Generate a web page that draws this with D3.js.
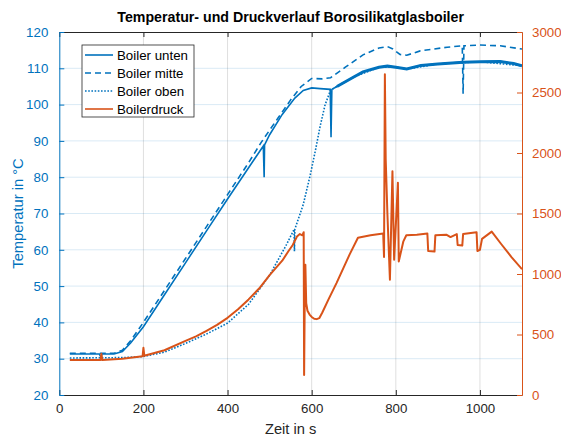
<!DOCTYPE html>
<html>
<head>
<meta charset="utf-8">
<script src="https://cdn.jsdelivr.net/npm/d3@7"></script>
<style>
  body { margin: 0; background: #fff; }
  svg { font-family: "Liberation Sans", Arial, Helvetica, sans-serif; }
</style>
</head>
<body>
<div id="chart-area"></div>
<script>
// Boiler unten (solid)
const tUnten = [25, 95, 100, 101, 130, 150, 170, 200, 250, 300, 350, 400, 450, 485, 487, 488, 500, 530, 560, 580, 600, 620, 644, 646, 648, 660, 700, 722, 760, 780, 800, 826, 860, 900, 960, 1000, 1048, 1080, 1100]
const vUnten = [31.3, 31.3, 30.2, 31.3, 31.3, 32, 34.4, 38.8, 47.6, 56.4, 65.2, 74, 82.6, 88.6, 80, 88.9, 91.7, 97.3, 101.8, 103.9, 104.6, 104.4, 104.2, 91, 104.2, 105, 107.6, 109, 110.3, 110.6, 110.3, 109.8, 110.8, 111.2, 111.7, 111.8, 111.9, 111.3, 110.7]

// Boiler mitte (dashed)
const tMitte = [25, 130, 150, 170, 200, 250, 300, 350, 400, 450, 480, 520, 550, 575, 600, 625, 645, 680, 722, 760, 780, 793, 810, 826, 858, 922, 958, 960, 962, 1000, 1048, 1100]
const vMitte = [31.5, 31.5, 32.3, 35, 40, 48.8, 57.6, 66.4, 75.2, 84, 89.6, 96.3, 101.3, 105, 107.2, 107.1, 107.4, 110.3, 113.7, 115.6, 116, 115.3, 113.8, 113.6, 114.8, 115.8, 116.2, 103, 116.2, 116.4, 116.2, 115.3]

// Boiler oben (dotted)
const tOben = [25, 150, 200, 250, 300, 350, 400, 450, 500, 540, 558, 559, 560, 561, 580, 596, 610, 620, 632, 645, 660, 700, 760, 800, 826, 900, 1000, 1100]
const vOben = [30.2, 30.3, 30.6, 31.8, 34.2, 36.8, 39.8, 45, 53, 61.4, 65.6, 59.6, 65.7, 66, 72.5, 80.3, 88, 94, 100, 104, 105, 107.6, 110.3, 110.3, 109.8, 111.2, 111.8, 110.7]

// Boilerdruck (right axis)
const tDruck = [25, 98, 100, 102, 150, 198, 200, 202, 250, 300, 325, 350, 375, 400, 425, 450, 475, 500, 515, 530, 545, 555, 565, 572, 578, 581, 582, 584, 585, 587, 590, 595, 600, 606, 612, 618, 625, 640, 659, 690, 710, 740, 770, 772, 774, 776, 780, 786, 792, 796, 805, 807, 818, 825, 850, 875, 877, 892, 894, 920, 930, 945, 947, 958, 960, 992, 994, 1000, 1005, 1028, 1050, 1075, 1100]
const vDruck = [290, 290, 340, 290, 300, 320, 390, 325, 370, 447, 485, 530, 580, 638, 708, 790, 880, 990, 1050, 1110, 1190, 1240, 1310, 1330, 1320, 1345, 166, 1000, 1076, 760, 696, 665, 645, 630, 627, 635, 680, 790, 925, 1160, 1300, 1320, 1335, 1140, 2650, 1946, 1500, 952, 1849, 1118, 1755, 1104, 1270, 1320, 1325, 1335, 1190, 1185, 1320, 1325, 1305, 1330, 1240, 1235, 1330, 1345, 1190, 1200, 1290, 1350, 1250, 1140, 1040]

const xTicks = [0, 200, 400, 600, 800, 1000]
const yTicksLeft = [20, 30, 40, 50, 60, 70, 80, 90, 100, 110, 120]
const yTicksRight = [0, 500, 1000, 1500, 2000, 2500, 3000]
const legendLabels = ["Boiler unten", "Boiler mitte", "Boiler oben", "Boilerdruck"]

function drawChart() {
    const svgWidth = 561
    const svgHeight = 437
    const margin = { left: 59.3, right: 39, top: 32, bottom: 42 }
    const chartWidth = svgWidth - margin.left - margin.right
    const chartHeight = svgHeight - margin.top - margin.bottom

    const blue = "#0072BD"
    const orange = "#D95319"
    const dark = "#262626"

    const xScale = d3.scaleLinear()
        .domain([0, 1100])
        .range([0, chartWidth])
    const yScale = d3.scaleLinear()
        .domain([20, 120])
        .range([chartHeight, 0])
    const yScale2 = d3.scaleLinear()
        .domain([0, 3000])
        .range([chartHeight, 0])

    const svg = d3.select("#chart-area")
        .append("svg")
        .attr("width", svgWidth)
        .attr("height", svgHeight)

    const chart = svg.append("g")
        .attr("transform", `translate(${margin.left},${margin.top})`)

    // grid
    chart.append("g")
        .selectAll("line")
        .data(xTicks.slice(1))
        .join("line")
        .attr("x1", d => xScale(d)).attr("x2", d => xScale(d))
        .attr("y1", 0).attr("y2", chartHeight)
        .attr("stroke", dark).attr("stroke-opacity", 0.15)
    chart.append("g")
        .selectAll("line")
        .data(yTicksLeft.slice(1, -1))
        .join("line")
        .attr("x1", 0).attr("x2", chartWidth)
        .attr("y1", d => yScale(d)).attr("y2", d => yScale(d))
        .attr("stroke", blue).attr("stroke-opacity", 0.15)

    chart.append("clipPath")
        .attr("id", "clip")
        .append("rect")
        .attr("width", chartWidth)
        .attr("height", chartHeight)

    const lineT = (ts, vs) => d3.line()
        .x(i => xScale(ts[i]))
        .y(i => yScale(vs[i]))(d3.range(ts.length))

    const lines = chart.append("g").attr("clip-path", "url(#clip)")

    lines.append("path")
        .attr("d", lineT(tOben, vOben))
        .attr("fill", "none").attr("stroke", blue)
        .attr("stroke-width", 1.6).attr("stroke-dasharray", "1.6,1.6")
    lines.append("path")
        .attr("d", lineT(tMitte, vMitte))
        .attr("fill", "none").attr("stroke", blue)
        .attr("stroke-width", 1.6).attr("stroke-dasharray", "6,4")
    lines.append("path")
        .attr("d", lineT(tUnten, vUnten))
        .attr("fill", "none").attr("stroke", blue)
        .attr("stroke-width", 1.6)
    // noisy part of the bottom sensor shows as a thicker band
    const idx = d3.range(tUnten.length).filter(i => tUnten[i] >= 660)
    lines.append("path")
        .attr("d", d3.line().x(i => xScale(tUnten[i])).y(i => yScale(vUnten[i]))(idx))
        .attr("fill", "none").attr("stroke", blue)
        .attr("stroke-width", 3)

    lines.append("path")
        .attr("d", d3.line()
            .x(i => xScale(tDruck[i]))
            .y(i => yScale2(vDruck[i]))(d3.range(tDruck.length)))
        .attr("fill", "none").attr("stroke", orange)
        .attr("stroke-width", 2).attr("stroke-linejoin", "round")

    // axes
    const xAxis = chart.append("g")
        .attr("transform", `translate(0,${chartHeight})`)
        .call(d3.axisBottom(xScale).tickValues(xTicks).tickFormat(d3.format("d"))
            .tickSizeInner(-5).tickSizeOuter(0).tickPadding(9))
    xAxis.select(".domain").attr("stroke", dark)
    xAxis.selectAll(".tick line").attr("stroke", dark)
    xAxis.selectAll("text").attr("fill", dark).attr("font-size", 13.3)

    const xTop = chart.append("g")
        .call(d3.axisTop(xScale).tickValues(xTicks).tickSizeInner(-5).tickSizeOuter(0).tickFormat(""))
    xTop.select(".domain").attr("stroke", dark)
    xTop.selectAll(".tick line").attr("stroke", dark)

    const yAxis = chart.append("g")
        .call(d3.axisLeft(yScale).tickValues(yTicksLeft).tickFormat(d3.format("d"))
            .tickSizeInner(-5).tickSizeOuter(0).tickPadding(11))
    yAxis.select(".domain").attr("stroke", blue)
    yAxis.selectAll(".tick line").attr("stroke", blue)
    yAxis.selectAll("text").attr("fill", blue).attr("font-size", 13.3)

    const yAxis2 = chart.append("g")
        .attr("transform", `translate(${chartWidth},0)`)
        .call(d3.axisRight(yScale2).tickValues(yTicksRight).tickFormat(d3.format("d"))
            .tickSizeInner(-5).tickSizeOuter(0).tickPadding(10))
    yAxis2.select(".domain").attr("stroke", orange)
    yAxis2.selectAll(".tick line").attr("stroke", orange)
    yAxis2.selectAll("text").attr("fill", orange).attr("font-size", 13.3)

    // labels
    svg.append("text")
        .attr("x", margin.left + chartWidth / 2)
        .attr("y", 22)
        .attr("text-anchor", "middle")
        .attr("font-size", 14.2)
        .attr("font-weight", "bold")
        .attr("fill", "#000")
        .text("Temperatur- und Druckverlauf Borosilikatglasboiler")

    svg.append("text")
        .attr("x", margin.left + chartWidth / 2)
        .attr("y", 434)
        .attr("text-anchor", "middle")
        .attr("font-size", 14.7)
        .attr("fill", dark)
        .text("Zeit in s")

    svg.append("text")
        .attr("transform", `translate(23,${margin.top + chartHeight / 2}) rotate(-90)`)
        .attr("text-anchor", "middle")
        .attr("font-size", 14.7)
        .attr("fill", blue)
        .text("Temperatur in °C")

    // legend
    const legend = svg.append("g").attr("transform", "translate(82,45)")
    legend.append("rect")
        .attr("width", 112).attr("height", 72)
        .attr("fill", "#fff").attr("stroke", dark).attr("stroke-width", 0.8)
    const styles = [
        { color: blue, dash: null },
        { color: blue, dash: "6,4" },
        { color: blue, dash: "1.6,1.6" },
        { color: orange, dash: null }
    ]
    legendLabels.forEach((label, i) => {
        const y = 10 + i * 18
        legend.append("line")
            .attr("x1", 3).attr("x2", 31).attr("y1", y).attr("y2", y)
            .attr("stroke", styles[i].color).attr("stroke-width", 1.6)
            .attr("stroke-dasharray", styles[i].dash)
        legend.append("text")
            .attr("x", 35).attr("y", y)
            .attr("dy", "0.35em")
            .attr("font-size", 13.3)
            .attr("fill", "#000")
            .text(label)
    })
}

drawChart()
</script>
</body>
</html>
